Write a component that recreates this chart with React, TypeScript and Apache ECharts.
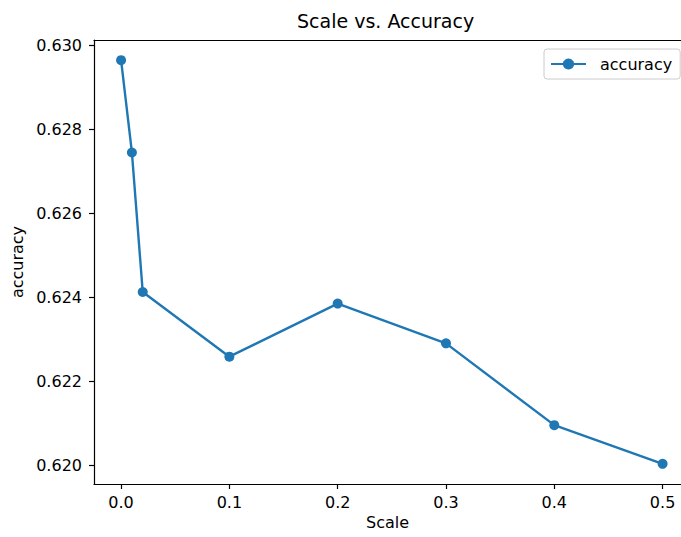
import React, { useEffect, useRef } from "react";
import * as echarts from "echarts";

const scales = [0, 0.01, 0.02, 0.1, 0.2, 0.3, 0.4, 0.5];
const accuracy = [0.62964, 0.627445, 0.624126, 0.622588, 0.62385, 0.622905, 0.62096, 0.62004];
const xTicks = [0, 0.1, 0.2, 0.3, 0.4, 0.5];
const yTicks = [0.62, 0.622, 0.624, 0.626, 0.628, 0.63];

const FONT = "DejaVu Sans";

export default function App() {
  const ref = useRef<HTMLDivElement>(null);
  useEffect(() => {
    if (!ref.current) return;
    const chart = echarts.init(ref.current, null, { renderer: "svg" });
    chart.setOption({
      animation: false,
      backgroundColor: "#fff",
      title: {
        text: "Scale vs. Accuracy",
        left: 297,
        top: 11,
        padding: 0,
        textStyle: { fontFamily: FONT, fontSize: 19, fontWeight: "normal", color: "#000" },
      },
      legend: {
        data: ["accuracy"],
        left: 544,
        top: 49,
        orient: "horizontal",
        padding: [7, 8, 7, 6],
        itemWidth: 35,
        itemHeight: 14,
        borderColor: "#cccccc",
        borderWidth: 1,
        borderRadius: 3,
        backgroundColor: "rgba(255,255,255,0.8)",
        textStyle: { fontFamily: FONT, fontSize: 16, color: "#000", padding: [0, 0, 0, 9] },
      },
      grid: { left: 94, top: 40, right: 0, bottom: 53, show: false },
      xAxis: [
        {
          type: "value",
          min: -0.025,
          max: 0.517,
          name: "Scale",
          nameLocation: "middle",
          nameGap: 30,
          nameTextStyle: { fontFamily: FONT, fontSize: 16, color: "#000" },
          axisLine: { show: true, onZero: false, lineStyle: { color: "#000", width: 1.2 } },
          axisTick: { show: true, length: 5, customValues: xTicks, lineStyle: { color: "#000", width: 1.2 } },
          axisLabel: {
            customValues: xTicks,
            margin: 10,
            fontFamily: FONT,
            fontSize: 16,
            color: "#000",
            formatter: (v: number) => v.toFixed(1),
          },
          splitLine: { show: false },
        },
        {
          type: "value",
          position: "top",
          min: -0.025,
          max: 0.517,
          axisLine: { show: true, onZero: false, lineStyle: { color: "#000", width: 1.2 } },
          axisTick: { show: false },
          axisLabel: { show: false },
          splitLine: { show: false },
        },
      ],
      yAxis: {
        type: "value",
        min: 0.61956,
        max: 0.63012,
        name: "accuracy",
        nameLocation: "middle",
        nameGap: 68,
        nameRotate: 90,
        nameTextStyle: { fontFamily: FONT, fontSize: 16, color: "#000" },
        axisLine: { show: true, onZero: false, lineStyle: { color: "#000", width: 1.2 } },
        axisTick: { show: true, length: 5, customValues: yTicks, lineStyle: { color: "#000", width: 1.2 } },
        axisLabel: {
          customValues: yTicks,
          margin: 12,
          fontFamily: FONT,
          fontSize: 16,
          color: "#000",
          formatter: (v: number) => v.toFixed(3),
        },
        splitLine: { show: false },
      },
      series: [
        {
          name: "accuracy",
          type: "line",
          xAxisIndex: 0,
          data: scales.map((s, i) => [s, accuracy[i]]),
          symbol: "circle",
          symbolSize: 10,
          itemStyle: { color: "#1f77b4" },
          lineStyle: { color: "#1f77b4", width: 2.4 },
        },
      ],
    });
    return () => chart.dispose();
  }, []);
  return <div ref={ref} style={{ width: 681, height: 537, position: "absolute", left: 0, top: 0 }} />;
}
